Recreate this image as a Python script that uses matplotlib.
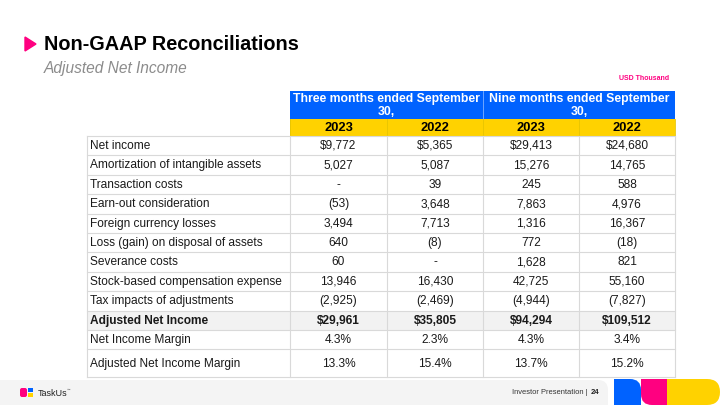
import matplotlib.pyplot as plt
from matplotlib.patches import Rectangle, FancyBboxPatch, Polygon

plt.rcParams['font.family'] = ['Liberation Sans', 'DejaVu Sans']

# Table contents
title = "Non-GAAP Reconciliations"
subtitle = "Adjusted Net Income"
unit_note = "USD Thousand"
period_headers = ["Three months ended September\n30,", "Nine months ended September\n30,"]
years = ["2023", "2022", "2023", "2022"]
row_labels = [
    "Net income",
    "Amortization of intangible assets",
    "Transaction costs",
    "Earn-out consideration",
    "Foreign currency losses",
    "Loss (gain) on disposal of assets",
    "Severance costs",
    "Stock-based compensation expense",
    "Tax impacts of adjustments",
    "Adjusted Net Income",
    "Net Income Margin",
    "Adjusted Net Income Margin",
]
q3_2023 = ["$9,772", "5,027", "-", "(53)", "3,494", "640", "60", "13,946", "(2,925)", "$29,961", "4.3%", "13.3%"]
q3_2022 = ["$5,365", "5,087", "39", "3,648", "7,713", "(8)", "-", "16,430", "(2,469)", "$35,805", "2.3%", "15.4%"]
ytd_2023 = ["$29,413", "15,276", "245", "7,863", "1,316", "772", "1,628", "42,725", "(4,944)", "$94,294", "4.3%", "13.7%"]
ytd_2022 = ["$24,680", "14,765", "588", "4,976", "16,367", "(18)", "821", "55,160", "(7,827)", "$109,512", "3.4%", "15.2%"]
bold_row = "Adjusted Net Income"

BLUE = '#0062ff'
YELLOW = '#ffd200'
PINK = '#ff0080'
GRID = '#d9d9d9'

fig = plt.figure(figsize=(7.2, 4.05), dpi=100)
ax = fig.add_axes([0, 0, 1, 1])
ax.set_xlim(0, 720)
ax.set_ylim(405, 0)
ax.axis('off')

# header text
ax.add_patch(Polygon([[25, 37], [25, 51], [36, 44]], closed=True, color=PINK))
ax.text(44, 44, title, fontsize=14.3, fontweight='bold', va='center', ha='left', color='black')
ax.text(44, 69, subtitle, fontsize=11.2, style='italic', va='center', ha='left', color='#8c8c8c')
ax.text(644, 78, unit_note, fontsize=5, fontweight='bold', va='center', ha='center', color=PINK)

# table geometry
label_x0 = 87
col_edges = [290, 387, 483, 579, 675]
head_top, head_mid, head_bot = 91, 119, 136
row_h = 19.4
last_h = 28
fs = 8.6

# period header (blue) and year row (yellow)
for i, txt in enumerate(period_headers):
    x0, x1 = col_edges[2 * i], col_edges[2 * i + 2]
    ax.add_patch(Rectangle((x0, head_top), x1 - x0, head_mid - head_top, color=BLUE, lw=0))
    ax.text((x0 + x1) / 2, (head_top + head_mid) / 2 + 0.5, txt, color='white', fontsize=8.8,
            fontweight='bold', ha='center', va='center', linespacing=1.15)
ax.add_patch(Rectangle((col_edges[0], head_mid), col_edges[-1] - col_edges[0], head_bot - head_mid,
                       color=YELLOW, lw=0))
for j, yr in enumerate(years):
    ax.text((col_edges[j] + col_edges[j + 1]) / 2, (head_mid + head_bot) / 2 + 0.5, yr,
            fontsize=9.3, fontweight='bold', ha='center', va='center')
# header separators
ax.plot([col_edges[2], col_edges[2]], [head_top, head_mid], color='#7fb0ff', lw=0.6)
for x in col_edges:
    ax.plot([x, x], [head_mid, head_bot], color='#e6c400', lw=0.6)

# body rows
columns = [q3_2023, q3_2022, ytd_2023, ytd_2022]
y = head_bot
row_tops = []
for r, lab in enumerate(row_labels):
    h = last_h if r == len(row_labels) - 1 else row_h
    row_tops.append(y)
    is_bold = lab == bold_row
    if is_bold:
        ax.add_patch(Rectangle((label_x0, y), col_edges[-1] - label_x0, h, color='#f2f2f2', lw=0))
    yc = y + h / 2 + 0.3
    ax.text(label_x0 + 3, yc, lab, fontsize=fs, ha='left', va='center',
            fontweight='bold' if is_bold else 'normal', color='#1a1a1a')
    for j, col in enumerate(columns):
        ax.text((col_edges[j] + col_edges[j + 1]) / 2, yc, col[r], fontsize=fs, ha='center',
                va='center', fontweight='bold' if is_bold else 'normal', color='#1a1a1a')
    y += h
table_bot = y

for yy in row_tops + [table_bot]:
    ax.plot([label_x0, col_edges[-1]], [yy, yy], color=GRID, lw=0.8)
for x in [label_x0] + col_edges:
    ax.plot([x, x], [head_bot, table_bot], color=GRID, lw=0.8)

# footer band
ax.add_patch(FancyBboxPatch((-20, 380), 628, 40, boxstyle='round,pad=0,rounding_size=10',
                            color='#f4f4f4', lw=0, zorder=0.5))
ax.text(588, 393, "Investor Presentation |", fontsize=5.4, ha='right', va='center', color='#333333')
ax.text(591, 393, "24", fontsize=5.6, ha='left', va='center', fontweight='bold', color='#222222')

# logo
ax.add_patch(FancyBboxPatch((20, 388), 7, 9, boxstyle='round,pad=0,rounding_size=2', color=PINK, lw=0))
ax.add_patch(Rectangle((28, 388), 5, 4.3, color=BLUE, lw=0))
ax.add_patch(Rectangle((28, 392.7), 5, 4.3, color=YELLOW, lw=0))
ax.text(38, 393, "TaskUs", fontsize=6.5, ha='left', va='center', color='#222222')
ax.text(67, 389.5, "™", fontsize=2.5, ha='left', va='center', color='#222222')

# decorative shapes bottom right
top = 379
ax.add_patch(FancyBboxPatch((614, top), 27, 40, boxstyle='round,pad=0,rounding_size=11', color=BLUE, lw=0))
ax.add_patch(Rectangle((614, top), 12, 12, color=BLUE, lw=0))
ax.add_patch(FancyBboxPatch((641, top), 26, 405 - top, boxstyle='round,pad=0,rounding_size=11',
                            color=PINK, lw=0))
ax.add_patch(Rectangle((641, top), 26, 12, color=PINK, lw=0))
ax.add_patch(Rectangle((655, top), 12, 405 - top, color=PINK, lw=0))
ax.add_patch(FancyBboxPatch((667, top), 53, 405 - top, boxstyle='round,pad=0,rounding_size=13',
                            color=YELLOW, lw=0))
ax.add_patch(Rectangle((667, top), 20, 405 - top, color=YELLOW, lw=0))

fig.savefig('out.png', dpi=100)
